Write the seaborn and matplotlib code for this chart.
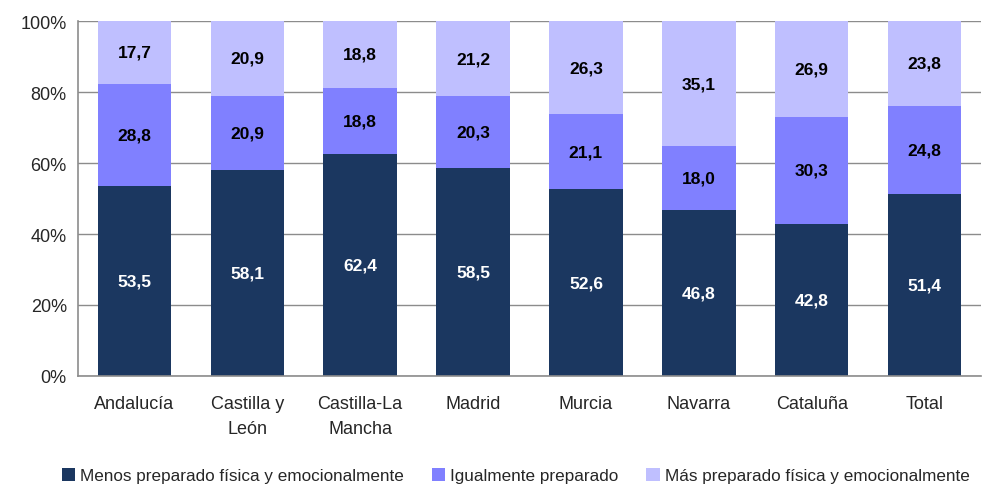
import numpy as np
import pandas as pd
import matplotlib
matplotlib.use('Agg')
import matplotlib.pyplot as plt
import seaborn as sns
from matplotlib.ticker import FixedLocator, PercentFormatter

# datos
regiones = ['Andalucía', 'Castilla y\nLeón', 'Castilla-La\nMancha', 'Madrid',
            'Murcia', 'Navarra', 'Cataluña', 'Total']
menos = [53.5, 58.1, 62.4, 58.5, 52.6, 46.8, 42.8, 51.4]
igual = [28.8, 20.9, 18.8, 20.3, 21.1, 18.0, 30.3, 24.8]
mas = [17.7, 20.9, 18.8, 21.2, 26.3, 35.1, 26.9, 23.8]
series = ['Menos preparado física y emocionalmente', 'Igualmente preparado',
          'Más preparado física y emocionalmente']

colores = ['#1B3760', '#8080FF', '#BFBFFF']
color_texto = ['white', 'black', 'black']

sns.set_style('white')
plt.rcParams['font.family'] = ['Liberation Sans', 'DejaVu Sans']

fig = plt.figure(figsize=(9.82, 4.85), dpi=100)
ax = fig.add_axes([0.0794, 0.2227, 0.9196, 0.7319])

df = pd.DataFrame({'region': regiones, 'menos': menos, 'igual': igual, 'mas': mas})
base = np.zeros(len(regiones))
for col, nombre, c, tc in zip(['menos', 'igual', 'mas'], series, colores, color_texto):
    sns.barplot(data=df, x='region', y=col, bottom=base, color=c, width=0.65,
                label=nombre, ax=ax, saturation=1, linewidth=0)
    for i, v in enumerate(df[col]):
        ax.text(i, base[i] + v / 2, f'{v:.1f}'.replace('.', ','), ha='center', va='center',
                color=tc, fontsize=12.5, fontweight='bold')
    base = base + df[col].values

handles, labels = ax.get_legend_handles_labels()
if ax.get_legend() is not None:
    ax.get_legend().remove()

ax.set_ylim(0, 100)
ax.set_xlim(-0.5, len(regiones) - 0.5)
ax.set_yticks(range(0, 101, 20))
ax.yaxis.set_major_formatter(PercentFormatter(decimals=0))
ax.set_xlabel('')
ax.set_ylabel('')
ax.grid(axis='y', color='#8c8c8c', linewidth=1)
ax.set_axisbelow(True)
for s in ['top', 'right']:
    ax.spines[s].set_visible(False)
for s in ['left', 'bottom']:
    ax.spines[s].set_color('#8c8c8c')
    ax.spines[s].set_linewidth(1.2)
ax.tick_params(axis='y', which='major', length=5, color='#8c8c8c', labelsize=13, pad=3)
ax.tick_params(axis='x', which='major', length=0, labelsize=13, pad=14)
for t in ax.get_xticklabels():
    t.set_linespacing(1.55)
ax.xaxis.set_minor_locator(FixedLocator(np.arange(-0.5, len(regiones), 1.0)))
ax.tick_params(axis='x', which='minor', length=5, color='#8c8c8c', width=1.2)

fig.legend(handles, labels, loc='lower center', bbox_to_anchor=(0.525, -0.03), ncol=3,
           frameon=False, fontsize=12.3, handlelength=0.8, handleheight=0.8,
           handletextpad=0.3, columnspacing=1.6)

fig.savefig('out.png', dpi=100)
